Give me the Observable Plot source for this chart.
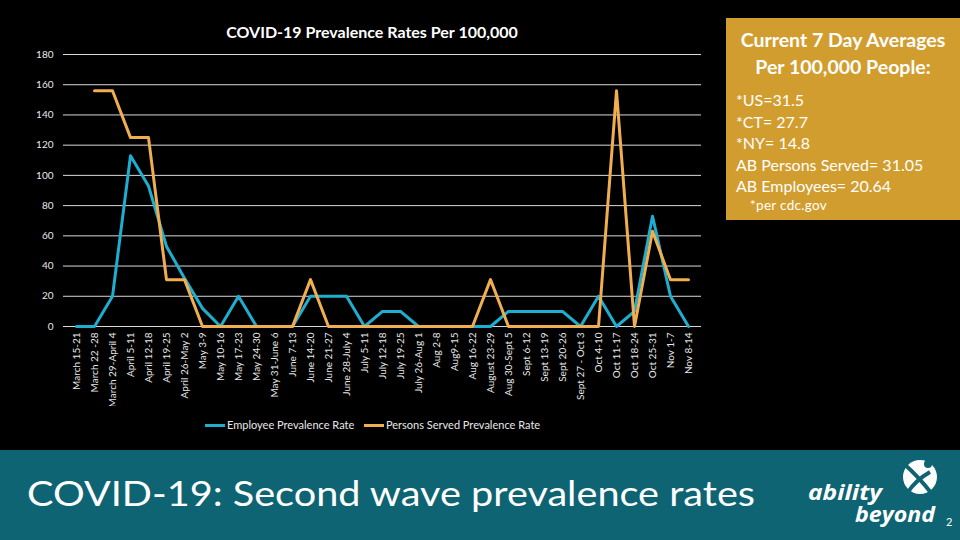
<!DOCTYPE html>
<html>
<head>
<meta charset="utf-8">
<script src="https://cdn.jsdelivr.net/npm/d3@7"></script>
<script src="https://cdn.jsdelivr.net/npm/@observablehq/plot@0.6"></script>
<style>
  html, body { margin: 0; padding: 0; }
  body { width: 960px; height: 540px; background: #000; position: relative; overflow: hidden; font-family: Lato, "Open Sans", sans-serif; color: #fff; }
  .abs { position: absolute; }
  #title { left: 172px; top: 22px; width: 400px; text-align: center; font-weight: bold; font-size: 16px; color: #fff; }
  #chart { left: 0; top: 40px; }
  #legend { left: 0; top: 418px; width: 720px; height: 16px; font-size: 11px; color: #e8e8e8; }
  .sw { position: absolute; top: 6px; width: 20px; height: 3px; }
  .lt { position: absolute; top: 0; }
  #box { left: 726px; top: 18px; width: 234px; height: 202px; background: #D29D2F; }
  #boxTitle { position: absolute; left: 0; top: 8px; width: 234px; text-align: center; font-weight: bold; font-size: 19.5px; line-height: 27px; color: #fff; }
  #boxList { position: absolute; left: 10px; top: 71px; font-size: 16px; line-height: 21.5px; color: #fff; }
  #boxNote { position: absolute; left: 24px; top: 179px; font-size: 13.5px; color: #fff; letter-spacing: 0.3px; }
  #banner { left: 0; top: 450px; width: 960px; height: 90px; background: #0E6472; }
</style>
</head>
<body>
<div id="title" class="abs">COVID-19 Prevalence Rates Per 100,000</div>
<div id="chart" class="abs"></div>
<div id="legend" class="abs"></div>
<div id="box" class="abs">
  <div id="boxTitle">Current 7 Day Averages<br>Per 100,000 People:</div>
  <div id="boxList"></div>
  <div id="boxNote">*per cdc.gov</div>
</div>
<div id="banner" class="abs">
  <svg width="960" height="90" style="position:absolute;left:0;top:0">
    <text x="27" y="56" font-family="Lato, 'Open Sans', sans-serif" font-size="35" fill="#fff" textLength="728" lengthAdjust="spacingAndGlyphs">COVID-19: Second wave prevalence rates</text>
    <text x="808" y="50" font-family="'Open Sans', Lato, sans-serif" font-size="22" font-weight="bold" font-style="italic" fill="#fff" textLength="74" lengthAdjust="spacingAndGlyphs">ability</text>
    <text x="855" y="72" font-family="'Open Sans', Lato, sans-serif" font-size="22" font-weight="bold" font-style="italic" fill="#fff" textLength="80" lengthAdjust="spacingAndGlyphs">beyond</text>
    <circle cx="920" cy="27" r="17" fill="#fff"/>
    <path d="M904 14 Q918 26 932 44" stroke="#0E6472" stroke-width="4" fill="none"/>
    <path d="M908 42 Q916 30 930 22" stroke="#0E6472" stroke-width="4" fill="none"/>
    <circle cx="928" cy="14" r="4" fill="#0E6472"/>
    <text x="946" y="76" font-family="Lato, sans-serif" font-size="11" fill="#fff">2</text>
  </svg>
</div>
<script>
const categories = ["March 15-21","March 22 -28","March 29-April 4","April 5-11","April 12-18","April 19-25","April 26-May 2","May 3-9","May 10-16","May 17-23","May 24-30","May 31-June 6","June 7-13","June 14-20","June 21-27","June 28-July 4","July 5-11","July 12-18","July 19-25","July 26-Aug 1","Aug 2-8","Aug9-15","Aug 16-22","August 23-29","Aug 30-Sept 5","Sept 6-12","Sept 13-19","Sept 20-26","Sept 27 - Oct 3","Oct 4-10","Oct 11-17","Oct 18-24","Oct 25-31","Nov 1-7","Nov 8-14"];
const employeeRate = [0,0,20,113,93,53,32,12,0,20,0,0,0,20,20,20,0,10,10,0,0,0,0,0,10,10,10,10,0,20,0,10,73,20,0];
const personsServedRate = [null,156,156,125,125,31,31,0,0,0,0,0,0,31,0,0,0,0,0,0,0,0,0,31,0,0,0,0,0,0,156,0,63,31,31];
const yTicks = [0,20,40,60,80,100,120,140,160,180];
const seriesNames = ["Employee Prevalence Rate","Persons Served Prevalence Rate"];
const seriesColors = ["#1EAED0","#F0AE50"];
const boxLines = ["*US=31.5","*CT= 27.7","*NY= 14.8","AB Persons Served= 31.05","AB Employees= 20.64"];

const empData = categories.map((c, i) => ({cat: c, v: employeeRate[i]}));
const psData = categories.map((c, i) => ({cat: c, v: personsServedRate[i]}));

const chart = Plot.plot({
  width: 720,
  height: 366,
  marginLeft: 63,
  marginRight: 19,
  marginTop: 14,
  marginBottom: 80,
  style: {background: "transparent", color: "#e8e8e8", fontFamily: "Lato, 'Open Sans', sans-serif", fontSize: "10px"},
  x: {type: "point", domain: categories, padding: 0.5, label: null, tickRotate: -90, tickSize: 0, tickPadding: 6},
  y: {domain: [0, 180], ticks: yTicks, label: null, tickSize: 0, tickPadding: 10},
  marks: [
    Plot.gridY(yTicks, {stroke: "#d9d9d9", strokeOpacity: 1, strokeWidth: 1}),
    Plot.line(empData, {x: "cat", y: "v", stroke: seriesColors[0], strokeWidth: 3}),
    Plot.line(psData, {x: "cat", y: "v", stroke: seriesColors[1], strokeWidth: 3})
  ]
});
document.getElementById("chart").appendChild(chart);

const legend = document.getElementById("legend");
const legendPos = [205, 364];
seriesNames.forEach((n, i) => {
  const sw = document.createElement("div");
  sw.className = "sw"; sw.style.left = legendPos[i] + "px"; sw.style.background = seriesColors[i];
  const t = document.createElement("div");
  t.className = "lt"; t.style.left = (legendPos[i] + 22) + "px"; t.textContent = n;
  legend.appendChild(sw); legend.appendChild(t);
});
document.getElementById("boxList").innerHTML = boxLines.join("<br>");
</script>
</body>
</html>
